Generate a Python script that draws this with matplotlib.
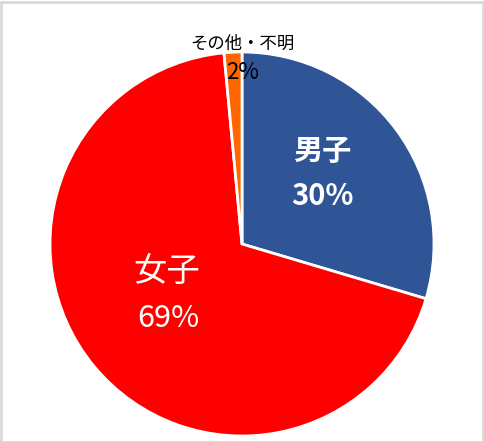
import matplotlib
matplotlib.use("Agg")
import matplotlib.pyplot as plt
from matplotlib.patches import Rectangle

plt.rcParams['font.family'] = ['Noto Sans CJK JP', 'DejaVu Sans']

labels = ['男子', '女子', 'その他・不明']
values = [29.6, 68.9, 1.5]
pct_labels = ['30%', '69%', '2%']
colors = ['#2F5597', '#FF0000', '#FF6600']

fig = plt.figure(figsize=(4.85, 4.42), dpi=100)
W, H = 485, 442
cx, cy, r = 242, 442 - 244, 192
ax = fig.add_axes([(cx - r) / W, (cy - r) / H, 2 * r / W, 2 * r / H])
ax.pie(values, colors=colors, startangle=90, counterclock=False,
       wedgeprops=dict(edgecolor='white', linewidth=2), radius=1.0)
ax.set_xlim(-1, 1)
ax.set_ylim(-1, 1)
ax.set_aspect('equal')
ax.axis('off')

# labels
ax.text(0.417, 0.482, labels[0], color='white', fontsize=21, fontweight='bold', ha='center', va='center')
ax.text(0.42, 0.25, pct_labels[0], color='white', fontsize=21, fontweight='bold', ha='center', va='center')
ax.text(-0.39, -0.146, labels[1], color='white', fontsize=24, ha='center', va='center')
ax.text(-0.385, -0.388, pct_labels[1], color='white', fontsize=22, ha='center', va='center')
ax.text(0.003, 1.044, labels[2], color='black', fontsize=12.5, ha='center', va='center')
ax.text(0.003, 0.892, pct_labels[2], color='black', fontsize=16, ha='center', va='center')

fig.patches.append(Rectangle((0.5 / W, 0.5 / H), 1 - 2.5 / W, 1 - 2.5 / H, transform=fig.transFigure,
                             fill=False, edgecolor='#D9D9D9', linewidth=2))
fig.savefig('out.png', dpi=100, facecolor='white')
